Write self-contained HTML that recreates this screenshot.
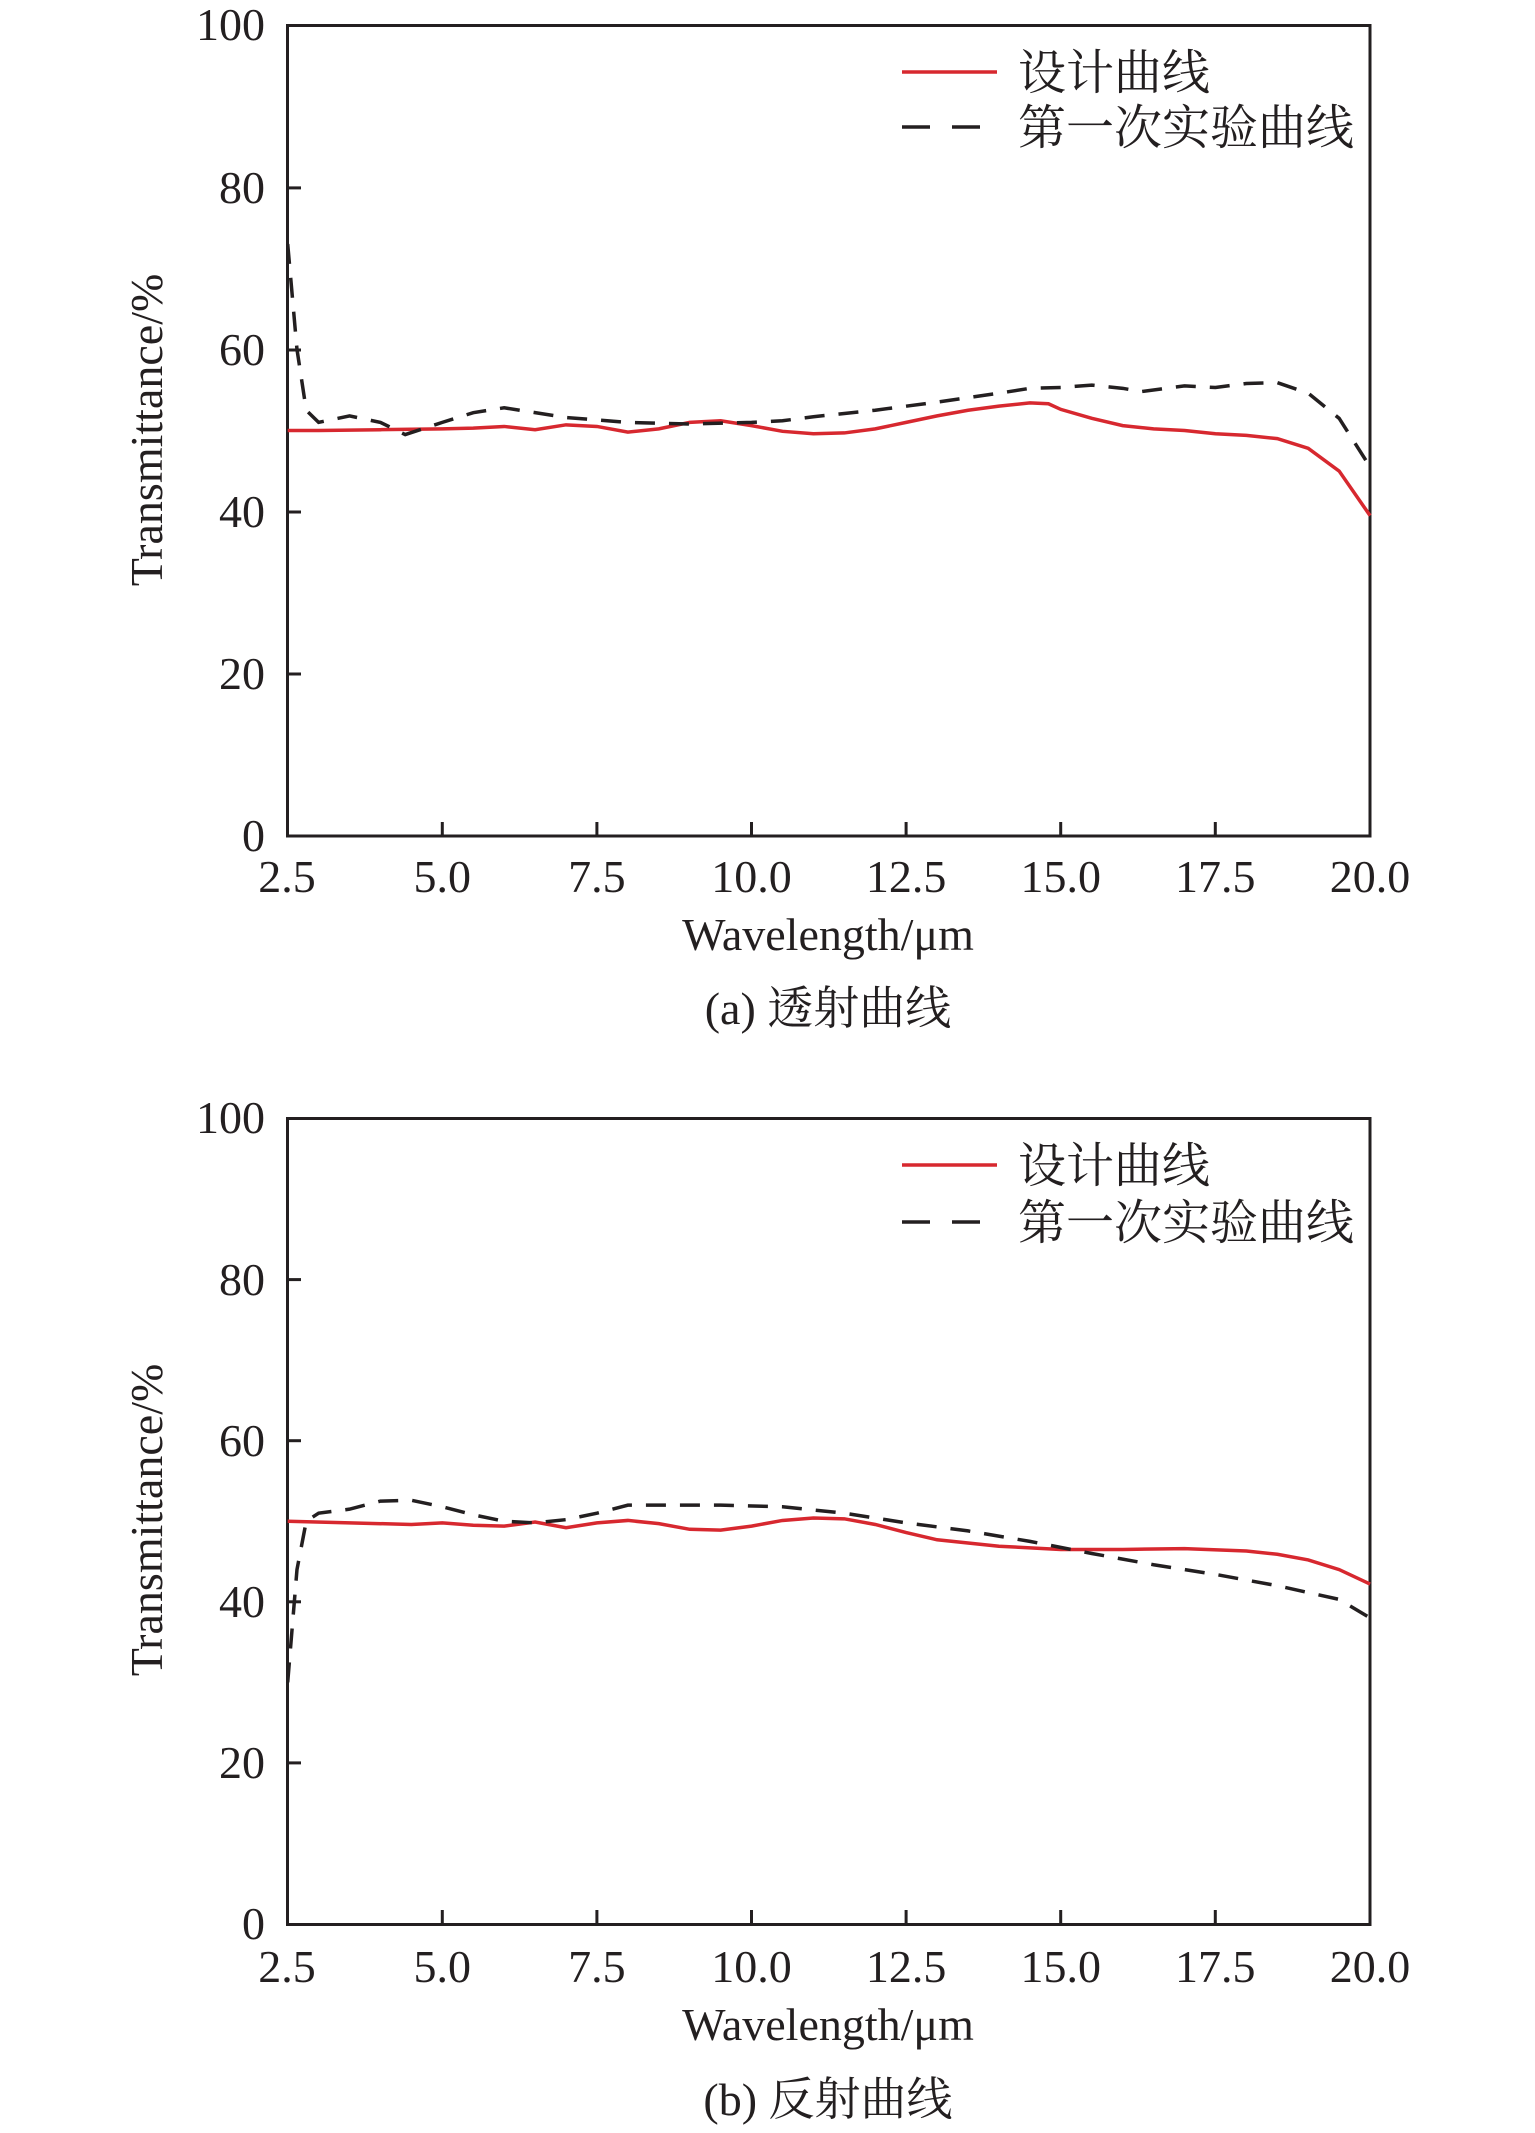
<!DOCTYPE html>
<html><head><meta charset="utf-8"><style>
html,body{margin:0;padding:0;background:#fff;}
svg{display:block}
text{font-family:"Liberation Serif","Noto Serif CJK SC",serif;fill:#231f20}
</style></head><body>
<svg width="1535" height="2133" viewBox="0 0 1535 2133" xmlns="http://www.w3.org/2000/svg">
<!-- Chart A -->
<g>
<rect x="287.5" y="25.5" width="1082.5" height="810.5" fill="none" stroke="#231f20" stroke-width="3"/>
<g stroke="#231f20" stroke-width="3">
<line x1="442.3" y1="836" x2="442.3" y2="822"/><line x1="596.9" y1="836" x2="596.9" y2="822"/><line x1="751.5" y1="836" x2="751.5" y2="822"/><line x1="906.1" y1="836" x2="906.1" y2="822"/><line x1="1060.7" y1="836" x2="1060.7" y2="822"/><line x1="1215.3" y1="836" x2="1215.3" y2="822"/>
<line x1="287" y1="187.9" x2="301" y2="187.9"/><line x1="287" y1="350" x2="301" y2="350"/><line x1="287" y1="512" x2="301" y2="512"/><line x1="287" y1="674" x2="301" y2="674"/>
</g>
<g font-size="46" text-anchor="end">
<text x="265" y="40">100</text><text x="265" y="203">80</text><text x="265" y="365">60</text><text x="265" y="527">40</text><text x="265" y="689">20</text><text x="265" y="851">0</text>
</g>
<g font-size="46" text-anchor="middle">
<text x="287" y="892">2.5</text><text x="442.3" y="892">5.0</text><text x="596.9" y="892">7.5</text><text x="751.5" y="892">10.0</text><text x="906.1" y="892">12.5</text><text x="1060.7" y="892">15.0</text><text x="1215.3" y="892">17.5</text><text x="1370" y="892">20.0</text>
<text x="828" y="950">Wavelength/μm</text>
<text x="828" y="1024">(a) 透射曲线</text>
</g>
<text transform="translate(162,430) rotate(-90)" font-size="46" text-anchor="middle">Transmittance/%</text>
<line x1="902" y1="72" x2="997" y2="72" stroke="#d7282f" stroke-width="3.5"/>
<line x1="902" y1="127" x2="997" y2="127" stroke="#231f20" stroke-width="3.5" stroke-dasharray="28,22"/>
<text x="1018" y="89" font-size="48">设计曲线</text>
<text x="1018" y="144" font-size="48">第一次实验曲线</text>
<g transform="translate(287.7,836) scale(61.85,-8.11) translate(-2.5,0)" fill="none">
<polyline vector-effect="non-scaling-stroke" stroke="#d7282f" stroke-width="3.5" points="2.5,50 3,50 4,50.1 5,50.2 5.5,50.3 6,50.5 6.5,50.1 7,50.7 7.5,50.5 8,49.8 8.5,50.2 9,51 9.5,51.2 10,50.6 10.5,49.9 11,49.6 11.5,49.7 12,50.2 12.5,51 13,51.8 13.5,52.5 14,53 14.5,53.4 14.8,53.3 15,52.6 15.5,51.5 16,50.6 16.5,50.2 17,50 17.5,49.6 18,49.4 18.5,49 19,47.8 19.5,45 20,39.5"/>
<polyline vector-effect="non-scaling-stroke" stroke="#231f20" stroke-width="3.5" stroke-dasharray="20,14" points="2.5,73 2.65,60 2.8,52.5 3,51 3.5,51.8 4,51 4.4,49.5 5,51 5.5,52.2 6,52.8 6.5,52.2 7,51.6 7.5,51.3 8,51 9,50.8 10,51 10.5,51.2 11,51.7 12,52.5 13,53.5 14,54.6 14.5,55.2 15,55.3 15.5,55.6 16,55.2 16.3,54.8 17,55.5 17.5,55.3 18,55.8 18.5,55.9 19,54.6 19.5,51.5 20,45.5"/>
</g>
</g>
<!-- Chart B -->
<g>
<rect x="287.5" y="1118.5" width="1082.5" height="806" fill="none" stroke="#231f20" stroke-width="3"/>
<g stroke="#231f20" stroke-width="3">
<line x1="442.3" y1="1924" x2="442.3" y2="1910"/><line x1="596.9" y1="1924" x2="596.9" y2="1910"/><line x1="751.5" y1="1924" x2="751.5" y2="1910"/><line x1="906.1" y1="1924" x2="906.1" y2="1910"/><line x1="1060.7" y1="1924" x2="1060.7" y2="1910"/><line x1="1215.3" y1="1924" x2="1215.3" y2="1910"/>
<line x1="287" y1="1279.6" x2="301" y2="1279.6"/><line x1="287" y1="1440.7" x2="301" y2="1440.7"/><line x1="287" y1="1601.8" x2="301" y2="1601.8"/><line x1="287" y1="1762.9" x2="301" y2="1762.9"/>
</g>
<g font-size="46" text-anchor="end">
<text x="265" y="1133">100</text><text x="265" y="1295">80</text><text x="265" y="1456">60</text><text x="265" y="1617">40</text><text x="265" y="1778">20</text><text x="265" y="1939">0</text>
</g>
<g font-size="46" text-anchor="middle">
<text x="287" y="1982">2.5</text><text x="442.3" y="1982">5.0</text><text x="596.9" y="1982">7.5</text><text x="751.5" y="1982">10.0</text><text x="906.1" y="1982">12.5</text><text x="1060.7" y="1982">15.0</text><text x="1215.3" y="1982">17.5</text><text x="1370" y="1982">20.0</text>
<text x="828" y="2040">Wavelength/μm</text>
<text x="828" y="2115">(b) 反射曲线</text>
</g>
<text transform="translate(162,1520) rotate(-90)" font-size="46" text-anchor="middle">Transmittance/%</text>
<line x1="902" y1="1165" x2="997" y2="1165" stroke="#d7282f" stroke-width="3.5"/>
<line x1="902" y1="1222" x2="997" y2="1222" stroke="#231f20" stroke-width="3.5" stroke-dasharray="28,22"/>
<text x="1018" y="1182" font-size="48">设计曲线</text>
<text x="1018" y="1239" font-size="48">第一次实验曲线</text>
<g transform="translate(287.7,1924) scale(61.85,-8.055) translate(-2.5,0)" fill="none">
<polyline vector-effect="non-scaling-stroke" stroke="#d7282f" stroke-width="3.5" points="2.5,50 3.5,49.8 4.5,49.6 5,49.8 5.5,49.5 6,49.4 6.5,49.9 7,49.2 7.5,49.8 8,50.1 8.5,49.7 9,49 9.5,48.9 10,49.4 10.5,50.1 11,50.4 11.5,50.3 12,49.6 12.5,48.6 13,47.7 14,46.9 15,46.5 16,46.5 17,46.6 18,46.3 18.5,45.9 19,45.2 19.5,44 20,42.2"/>
<polyline vector-effect="non-scaling-stroke" stroke="#231f20" stroke-width="3.5" stroke-dasharray="20,14" points="2.5,30 2.65,44 2.8,50 3,51 3.5,51.5 4,52.5 4.5,52.6 5,51.8 5.5,50.8 6,50 6.5,49.8 7,50.2 7.5,51 8,52 8.5,52 9.5,52 10.5,51.8 11.5,51 12.5,49.8 13.5,48.8 14.5,47.5 15.5,46 16.5,44.6 17.5,43.4 18.5,42 19.5,40.3 20,38"/>
</g>
</g>
</svg>
</body></html>
